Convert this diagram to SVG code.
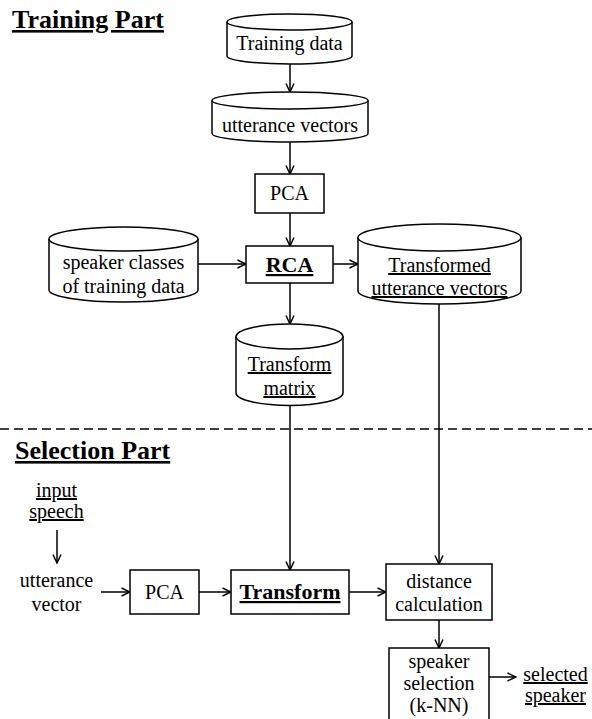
<svg xmlns="http://www.w3.org/2000/svg" width="592" height="719" viewBox="0 0 592 719" font-family="'Liberation Serif', 'DejaVu Serif', serif">
<style>
.n{fill:#fff;stroke:#000;stroke-width:1.5}
.c{fill:none;stroke:#000;stroke-width:1.5}
text{font-size:20px;text-anchor:middle;fill:#000}
.u{text-decoration:underline}
.b{font-weight:bold;font-size:22px}
.h{font-weight:bold;font-size:26px;text-anchor:start;text-decoration:underline}
</style>
<defs>
<marker id="ah" markerWidth="10" markerHeight="12" refX="9.5" refY="5.5" orient="auto" markerUnits="userSpaceOnUse">
<path d="M1,1.5 L9.5,5.5 L1,9.5" fill="none" stroke="#000" stroke-width="1.5"/>
</marker>
</defs>
<rect width="592" height="719" fill="#fff"/>
<text class="h" x="12" y="28">Training Part</text>
<text class="h" x="15" y="459">Selection Part</text>
<line x1="0" y1="429" x2="592" y2="429" stroke="#000" stroke-width="1.5" stroke-dasharray="9 5"/>

<g id="connectors" class="c" marker-end="url(#ah)">
<line x1="290" y1="64" x2="290" y2="92"/>
<line x1="290" y1="142" x2="290" y2="174"/>
<line x1="290" y1="213" x2="290" y2="246"/>
<line x1="198" y1="264" x2="246" y2="264"/>
<line x1="333" y1="264" x2="358" y2="264"/>
<line x1="290" y1="283" x2="290" y2="324"/>
<line x1="290" y1="405" x2="290" y2="570"/>
<line x1="439" y1="304" x2="439" y2="564"/>
<line x1="57" y1="530" x2="57" y2="563"/>
<line x1="101" y1="592" x2="130" y2="592"/>
<line x1="199" y1="592" x2="231" y2="592"/>
<line x1="349" y1="592" x2="386" y2="592"/>
<line x1="439" y1="620" x2="439" y2="648"/>
<line x1="489" y1="677" x2="516" y2="677"/>
</g>

<g id="training-data">
<path class="n" d="M227,22 L227,56 A62.5,8 0 0 0 352,56 L352,22"/>
<ellipse class="n" cx="289.5" cy="22" rx="62.5" ry="8"/>
<text x="289.5" y="50">Training data</text>
</g>
<g id="utterance-vectors">
<path class="n" d="M212,100.5 L212,133.5 A78,8.5 0 0 0 368,133.5 L368,100.5"/>
<ellipse class="n" cx="290" cy="100.5" rx="78" ry="8.5"/>
<text x="290" y="132">utterance vectors</text>
</g>
<g id="pca-train">
<rect class="n" x="255" y="174" width="69" height="39"/>
<text x="289.5" y="200">PCA</text>
</g>
<g id="speaker-classes">
<path class="n" d="M49,239 L49,290 A74.5,12 0 0 0 198,290 L198,239"/>
<ellipse class="n" cx="123.5" cy="239" rx="74.5" ry="12"/>
<text x="123.5" y="269">speaker classes</text>
<text x="123.5" y="293">of training data</text>
</g>
<g id="rca">
<rect class="n" x="246" y="246" width="87" height="37"/>
<text class="b u" x="289.5" y="272">RCA</text>
</g>
<g id="transformed-vectors">
<path class="n" d="M358,237.5 L358,291 A81.5,13 0 0 0 521,291 L521,237.5"/>
<ellipse class="n" cx="439.5" cy="237.5" rx="81.5" ry="13.5"/>
<text class="u" x="439.5" y="272">Transformed</text>
<text class="u" x="439.5" y="295">utterance vectors</text>
</g>
<g id="transform-matrix">
<path class="n" d="M236,336.5 L236,393 A53.5,12.5 0 0 0 343,393 L343,336.5"/>
<ellipse class="n" cx="289.5" cy="336.5" rx="53.5" ry="12.5"/>
<text class="u" x="289.5" y="371">Transform</text>
<text class="u" x="289.5" y="395">matrix</text>
</g>
<g id="input-speech">
<text class="u" x="56.5" y="497">input</text>
<text class="u" x="56.5" y="518">speech</text>
</g>
<g id="utterance-vector">
<text x="56.5" y="587">utterance</text>
<text x="56.5" y="611">vector</text>
</g>
<g id="pca-select">
<rect class="n" x="130" y="570" width="69" height="44"/>
<text x="164.5" y="599">PCA</text>
</g>
<g id="transform">
<rect class="n" x="231" y="570" width="118" height="44"/>
<text class="b u" x="290" y="599">Transform</text>
</g>
<g id="distance-calculation">
<rect class="n" x="386" y="564" width="106" height="56"/>
<text x="439" y="588">distance</text>
<text x="439" y="611">calculation</text>
</g>
<g id="speaker-selection">
<rect class="n" x="389" y="648" width="100" height="90"/>
<text x="439" y="668">speaker</text>
<text x="439" y="690">selection</text>
<text x="439" y="712">(k-NN)</text>
</g>
<g id="selected-speaker">
<text class="u" x="555.5" y="681">selected</text>
<text class="u" x="555.5" y="702">speaker</text>
</g>
</svg>
